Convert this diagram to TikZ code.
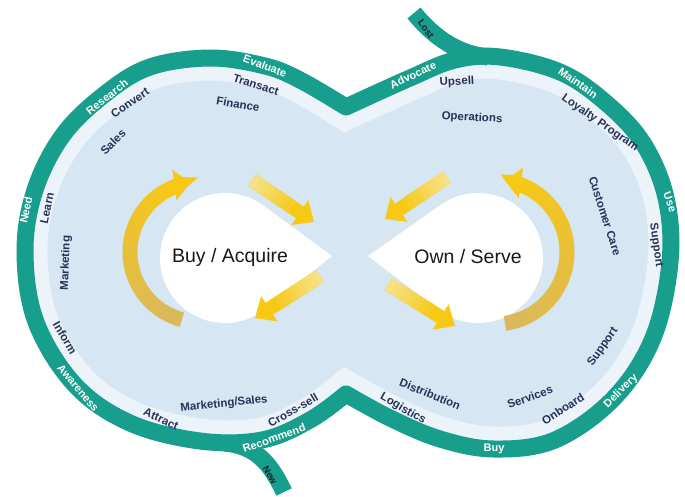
\documentclass[tikz,border=0pt]{standalone}
\usepackage{fontspec}
\setmainfont{Liberation Sans}
\usetikzlibrary{arrows.meta,calc}
\definecolor{teal1}{RGB}{24,158,140}
\definecolor{inblue}{RGB}{214,230,243}
\definecolor{palering}{RGB}{236,243,249}
\definecolor{navy}{RGB}{40,50,88}
\definecolor{ybright}{RGB}{247,200,20}
\definecolor{ypale}{RGB}{245,226,135}
\definecolor{ytan}{RGB}{218,184,92}
\definecolor{darktext}{RGB}{25,35,45}
\newcommand{\yarrowdraw}[2]{%
  \draw[yarr, ybright] #1 -- #2;
  \foreach \k in {0,...,7}{%
    \pgfmathsetmacro\ta{\k*0.08}%
    \pgfmathsetmacro\tb{\k*0.08+0.085}%
    \pgfmathsetmacro\pp{100-\k*12}%
    \draw[line width=14pt, color=ypale!\pp!ybright] ($#1!\ta!#2$) -- ($#1!\tb!#2$);
  }%
}
\begin{document}
\begin{tikzpicture}[x=1pt,y=-1pt,
  bandtxt/.style={font=\bfseries\fontsize{11}{12}\selectfont, text=white, inner sep=0pt},
  intxt/.style={font=\bfseries\fontsize{11.5}{12}\selectfont, text=navy, inner sep=0pt},
  tailtxt/.style={font=\bfseries\fontsize{9.5}{10}\selectfont, text=darktext, inner sep=0pt},
  bigtxt/.style={font=\fontsize{19.5}{21}\selectfont, text=black!90, inner sep=0pt},
  bandline/.style={draw=teal1, line width=17pt},
  yarr/.style={line width=14pt, -{Triangle[length=17pt,width=29pt]}}]
\useasboundingbox (0,0) rectangle (685,496);
\fill[white] (0,0) rectangle (685,496);
\def\bandP{plot[smooth, tension=0.6] coordinates {(346,107) (300,80) (265,66) (210,58) (150,67) (105,94) (63,135) (35,190) (25,252) (36,322) (75,385) (130,423) (200,441) (262,440) (310,420) (346,394)} -- plot[smooth, tension=0.6] coordinates {(346,394) (390,418) (440,439) (494,449) (555,440) (614,398) (653,338) (670,262) (666,198) (643,143) (605,102) (560,72) (500,57) (455,60) (410,78) (346,107)} -- cycle}
% interior
\fill[inblue] \bandP;
\begin{scope}
  \clip \bandP;
  \draw[palering, line width=45pt] \bandP;
\end{scope}
% tails
\draw[bandline] (488,57) .. controls (460,54) and (436,40) .. (414,13);
\draw[bandline] (225,443) .. controls (255,446) and (270,462) .. (284,492);
% band
\draw[bandline, line join=round] \bandP;
% white teardrops
\fill[white] (225,258) circle[radius=65];
\fill[white] (332,256) -- (264.5,206.4) -- (264.5,309.6) -- cycle;
\fill[white] (478,258) circle[radius=65];
\fill[white] (368,256) -- (439.6,205.6) -- (439.6,310.4) -- cycle;
% circular arrows
\coordinate (lc) at (200,252);
\foreach \i in {0,...,13}{%
  \pgfmathsetmacro\a{105+10*\i}%
  \pgfmathsetmacro\b{\a+10.5}%
  \pgfmathsetmacro\p{100*\i/14}%
  \draw[line width=15pt, color=ybright!\p!ytan] ($(lc)+(\a:70)$) arc[start angle=\a, end angle=\b, radius=70];
}
\draw[line width=15pt, ybright, -{Triangle[length=16pt,width=30pt]}] ($(lc)+(244:70)$) arc[start angle=244, end angle=262, radius=70];
\coordinate (rc) at (495,252);
\foreach \i in {0,...,14}{%
  \pgfmathsetmacro\a{82-10*\i}%
  \pgfmathsetmacro\b{\a-10.5}%
  \pgfmathsetmacro\p{100*\i/15}%
  \draw[line width=15pt, color=ybright!\p!ytan] ($(rc)+(\a:72)$) arc[start angle=\a, end angle=\b, radius=72];
}
\draw[line width=15pt, ybright, -{Triangle[length=16pt,width=30pt]}] ($(rc)+(-66:72)$) arc[start angle=-66, end angle=-82, radius=72];
% straight arrows
\yarrowdraw{(252,180)}{(314,222)}
\yarrowdraw{(320,276)}{(255,318)}
\yarrowdraw{(447,177)}{(385,219)}
\yarrowdraw{(388,284)}{(455,326)}
% big labels
\node[bigtxt] (buy) at (230,257) {Buy / Acquire};
\node[bigtxt] (own) at (468,257) {Own / Serve};
% band labels
\node[bandtxt, rotate=-20] (evaluate) at (265,66) {Evaluate};
\node[bandtxt, rotate=38] (research) at (107,97) {Research};
\node[bandtxt, rotate=78] (need) at (26,210) {Need};
\node[bandtxt, rotate=-50] (awareness) at (78,388) {Awareness};
\node[bandtxt, rotate=20] (recommend) at (274,438) {Recommend};
\node[bandtxt, rotate=25] (advocate) at (413,75) {Advocate};
\node[bandtxt, rotate=-35] (maintain) at (578,83) {Maintain};
\node[bandtxt, rotate=-70] (use) at (670,202) {Use};
\node[bandtxt, rotate=45] (delivery) at (621,391) {Delivery};
\node[bandtxt] (buyband) at (494,449) {Buy};
% tail labels
\node[tailtxt, rotate=-55] (lost) at (426,29) {Lost};
\node[tailtxt, rotate=-60] (new) at (270,475) {New};
% inner labels
\node[intxt, rotate=-18] (transact) at (256,85) {Transact};
\node[intxt, rotate=-10] (finance) at (238,104) {Finance};
\node[intxt, rotate=35] (convert) at (130,103) {Convert};
\node[intxt, rotate=45] (sales) at (113,142) {Sales};
\node[intxt, rotate=78] (learn) at (47,208) {Learn};
\node[intxt, rotate=88] (marketing) at (66,263) {Marketing};
\node[intxt, rotate=-60] (inform) at (65,338) {Inform};
\node[intxt, rotate=-25] (attract) at (161,419) {Attract};
\node[intxt, rotate=6] (mktsales) at (224,404) {Marketing/Sales};
\node[intxt, rotate=30] (crosssell) at (293,410) {Cross-sell};
\node[intxt, rotate=3] (upsell) at (457,82) {Upsell};
\node[intxt, rotate=-3] (operations) at (472,118) {Operations};
\node[intxt, rotate=-35] (loyalty) at (600,123) {Loyalty Program};
\node[intxt, rotate=-72] (custcare) at (605,216) {Customer Care};
\node[intxt, rotate=-82] (support1) at (656,245) {Support};
\node[intxt, rotate=55] (support2) at (603,347) {Support};
\node[intxt, rotate=33] (onboard) at (563,409) {Onboard};
\node[intxt, rotate=20] (services) at (530,397) {Services};
\node[intxt, rotate=-22] (distribution) at (430,394) {Distribution};
\node[intxt, rotate=-30] (logistics) at (403,409) {Logistics};
\end{tikzpicture}
\end{document}
